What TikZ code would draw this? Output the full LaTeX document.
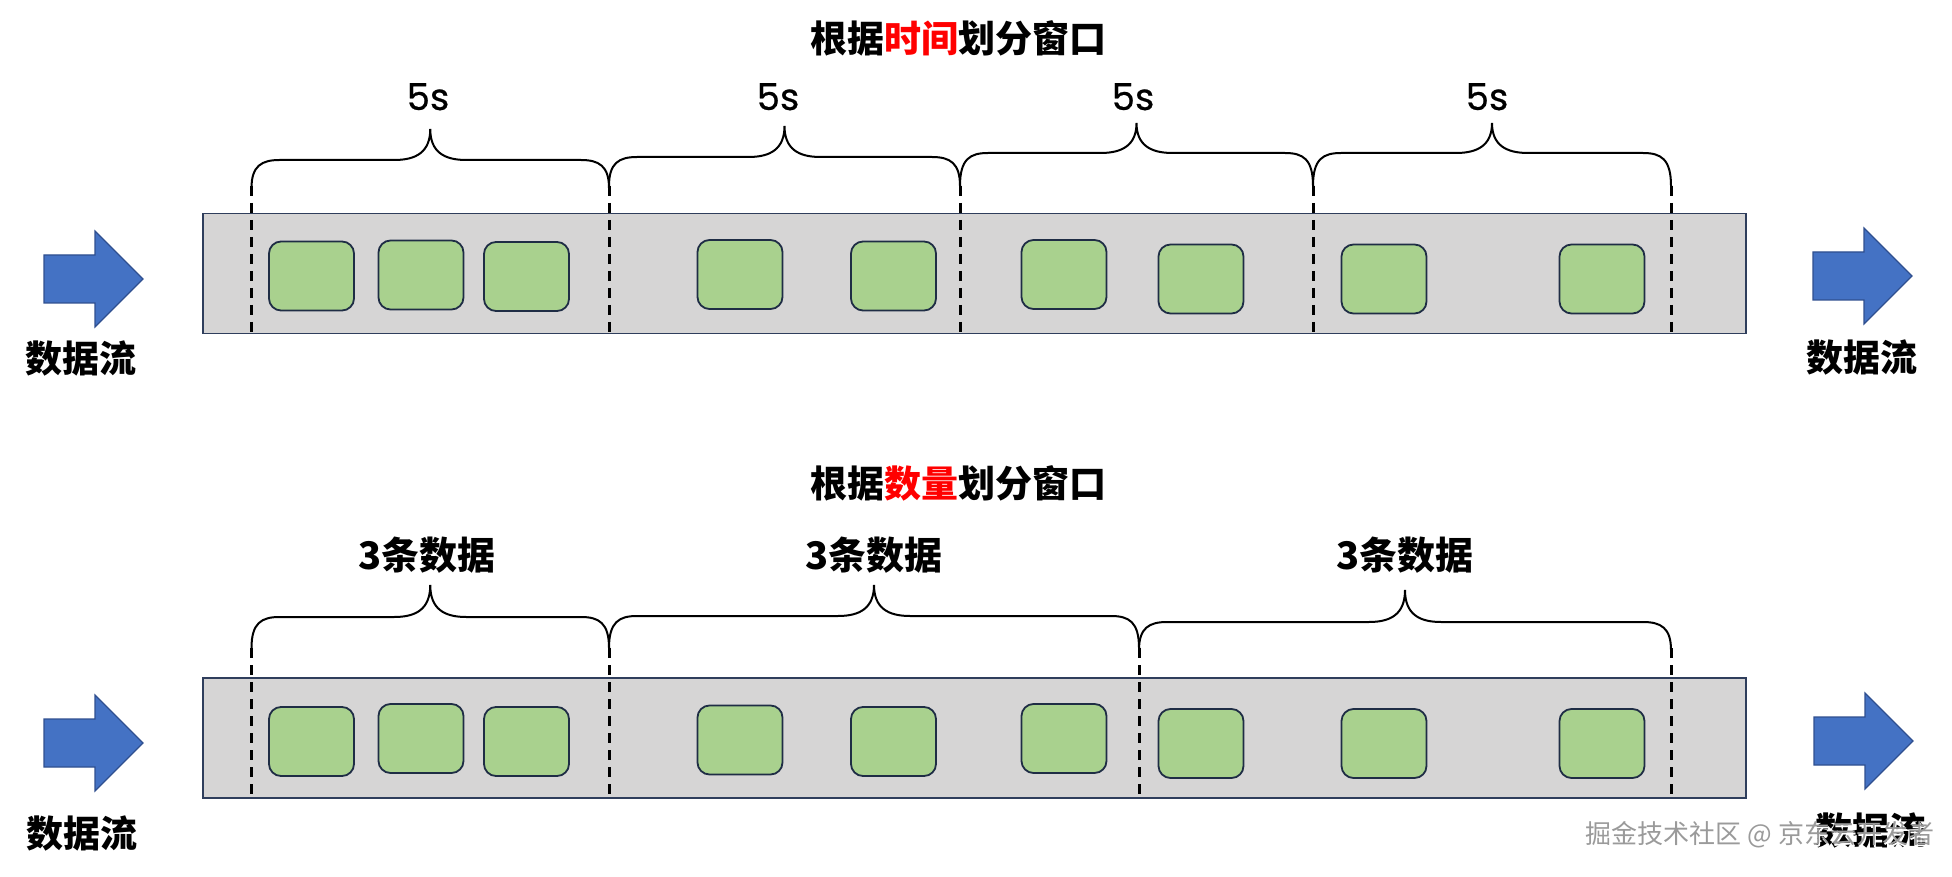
\documentclass[tikz,border=0pt]{standalone}
\usepackage{fontspec}
\newfontfamily\cjk{Noto Sans CJK SC}
\newfontfamily\pop{Poppins}[FakeBold=0.6]
\definecolor{stripfill}{HTML}{D6D5D5}
\definecolor{navy}{HTML}{2F3E5C}
\definecolor{boxgreen}{HTML}{A9D18E}
\definecolor{boxline}{HTML}{1F2D45}
\definecolor{arrowblue}{HTML}{4472C4}
\definecolor{arrowline}{HTML}{2F4F8F}
\definecolor{wmgray}{HTML}{9A9A9A}
\definecolor{hired}{HTML}{FF0000}
\tikzset{
  strip/.style={draw=navy, line width=1.8pt, fill=stripfill, minimum width=1543pt, minimum height=120pt, inner sep=0pt},
  databox/.style={draw=boxline, line width=1.8pt, fill=boxgreen, rounded corners=12pt, minimum width=85pt, minimum height=69pt, inner sep=0pt},
  sep/.style={line width=3pt, dash pattern=on 10pt off 7pt},
  bracepath/.style={line width=2pt, black},
  flow/.style={fill=arrowblue, draw=arrowline, line width=1.2pt, line join=miter},
  title/.style={font=\cjk\bfseries\fontsize{37}{37}\selectfont, inner sep=0pt},
  cjklabel/.style={font=\cjk\bfseries\fontsize{37}{37}\selectfont, inner sep=0pt},
  countlabel/.style={font=\cjk\bfseries\fontsize{38}{38}\selectfont, inner sep=0pt},
  seclabel/.style={font=\pop\fontsize{37}{37}\selectfont, inner sep=0pt, anchor=base},
  wmark/.style={font=\cjk\fontsize{26}{26}\selectfont, inner sep=0pt}
}
% #1 left x, #2 right x, #3 end y, #4 horizontal y, #5 tip y
\newcommand\wbrace[5]{%
  \pgfmathsetmacro\bm{(#1+#2)/2}%
  \draw[bracepath] (#1,#3) .. controls (#1,#4+6) and (#1+10,#4) .. (#1+28,#4)
    -- (\bm-36,#4) .. controls (\bm-14,#4) and (\bm,#4-8) .. (\bm,#5)
    .. controls (\bm,#4-8) and (\bm+14,#4) .. (\bm+36,#4)
    -- (#2-28,#4) .. controls (#2-10,#4) and (#2,#4+6) .. (#2,#3);%
}
\newcommand\flowarrow[2]{% #1 left x, #2 tip y (center)
  \draw[flow] (#1,#2-24) -- (#1+51,#2-24) -- (#1+51,#2-48) -- (#1+99,#2) -- (#1+51,#2+48) -- (#1+51,#2+24) -- (#1,#2+24) -- cycle;%
}
\begin{document}
\begin{tikzpicture}[x=1pt,y=-1pt]
\useasboundingbox (0,0) rectangle (1952,877);

% ---------- top: by time ----------
\node[title] (title1) at (958.5,38) {根据{\color{hired}时间}划分窗口};

\node[strip] (strip1) at (974.5,273.5) {};
\foreach \x in {251.5,609,960,1313,1671}
  \draw[sep] (\x,186) -- (\x,334);

\foreach \n/\x/\y in {t1/311.5/276, t2/421/275, t3/526.5/276.5, t4/740/274.5, t5/893.5/276,
                      t6/1064/274.5, t7/1201/279, t8/1384/279, t9/1602/279}
  \node[databox] (\n) at (\x,\y) {};

\wbrace{251.5}{609}{188}{160}{129}
\wbrace{609}{960}{186}{157}{126}
\wbrace{960}{1313}{186}{153}{123}
\wbrace{1313}{1671}{186}{153}{123}

\node[seclabel] (s1) at (428,110) {5s};
\node[seclabel] (s2) at (778,110) {5s};
\node[seclabel] (s3) at (1133,110) {5s};
\node[seclabel] (s4) at (1487,110) {5s};

\flowarrow{44}{279}
\flowarrow{1813}{276}
\node[cjklabel] (in1) at (81,358) {数据流};
\node[cjklabel] (out1) at (1862,357) {数据流};

% ---------- bottom: by count ----------
\node[title] (title2) at (958.5,483) {根据{\color{hired}数量}划分窗口};

\node[strip] (strip2) at (974.5,738) {};
\foreach \x in {251.5,609,1139,1671}
  \draw[sep] (\x,648) -- (\x,797);

\foreach \n/\x/\y in {b1/311.5/741.5, b2/421/738.5, b3/526.5/741.5, b4/740/740, b5/893.5/741.5,
                      b6/1064/738.5, b7/1201/743.5, b8/1384/743.5, b9/1602/743.5}
  \node[databox] (\n) at (\x,\y) {};

\wbrace{251.5}{609}{648}{617}{585}
\wbrace{609}{1139}{648}{616}{585}
\wbrace{1139}{1671}{650}{622}{590}

\node[countlabel] (c1) at (427,555) {3条数据};
\node[countlabel] (c2) at (874,555) {3条数据};
\node[countlabel] (c3) at (1405,555) {3条数据};

\flowarrow{44}{743}
\flowarrow{1814}{741}
\node[cjklabel] (in2) at (82,833) {数据流};
\node[cjklabel] (out2) at (1871,830) {数据流};

% watermark
\node[wmark, text=white] (wm0) at (1761.5,836.5) {掘金技术社区 @ 京东云开发者};
\node[wmark, text=wmgray] (wm) at (1760,835) {掘金技术社区 @ 京东云开发者};
\end{tikzpicture}
\end{document}
